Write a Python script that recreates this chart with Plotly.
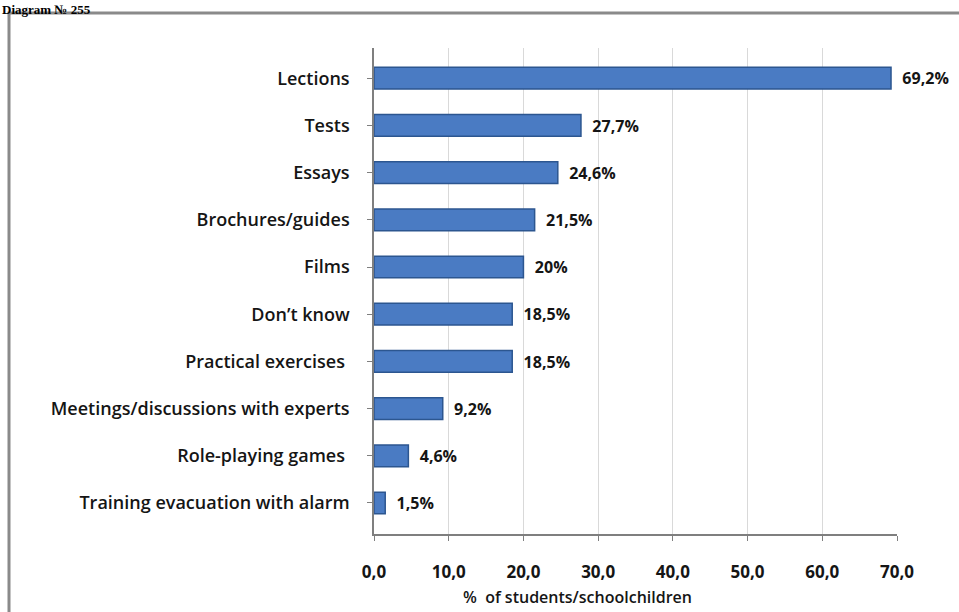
import plotly.graph_objects as go

categories = ["Lections", "Tests", "Essays", "Brochures/guides", "Films", "Don\u2019t know",
              "Practical exercises ", "Meetings/discussions with experts", "Role-playing games ",
              "Training evacuation with alarm"]
values = [69.2, 27.7, 24.6, 21.5, 20.0, 18.5, 18.5, 9.2, 4.6, 1.5]
value_labels = ["69,2%", "27,7%", "24,6%", "21,5%", "20%", "18,5%", "18,5%", "9,2%", "4,6%", "1,5%"]
tick_vals = [0, 10, 20, 30, 40, 50, 60, 70]
tick_text = ["0,0", "10,0", "20,0", "30,0", "40,0", "50,0", "60,0", "70,0"]

W, H = 959, 612
L, R, T, B = 374, 62, 48, 78
pw, ph = W - L - R, H - T - B

def px(x):
    return (x - L) / pw

def py(y):
    return (H - B - y) / ph

TXT = "#151515"
FONT = "Open Sans"
fig = go.Figure()
fig.add_trace(go.Bar(
    y=list(range(len(categories))), x=values, orientation="h",
    width=0.46,
    marker=dict(color="#4a7bc3", line=dict(color="#2c5690", width=1.5)),
    text=value_labels, texttemplate="  %{text}", textposition="outside", cliponaxis=False,
    textfont=dict(family=FONT, size=17, color=TXT, weight="bold"),
))

fig.update_layout(
    width=W, height=H,
    margin=dict(l=L, r=R, t=T, b=B),
    paper_bgcolor="white", plot_bgcolor="white",
    showlegend=False,
    xaxis=dict(range=[0, 70], tickvals=tick_vals, ticktext=tick_text,
               showgrid=True, gridcolor="#d9d9d9", gridwidth=1,
               zeroline=False, showline=True, linecolor="#7f7f7f", linewidth=1.5,
               ticks="outside", ticklen=5, tickcolor="#7f7f7f",
               tickfont=dict(family=FONT, size=17, color=TXT, weight="bold"),
               ticklabelstandoff=17),
    yaxis=dict(range=[9.657, -0.64], tickmode="array",
               tickvals=list(range(len(categories))), ticktext=categories,
               showgrid=False, showline=True, zeroline=False,
               linecolor="#7f7f7f", linewidth=1.5, ticks="outside", ticklen=5,
               tickcolor="#7f7f7f",
               tickfont=dict(family=FONT, size=18, color=TXT, weight=600),
               ticklabelstandoff=14),
    font=dict(family=FONT),
)

# frame around chart
fig.add_shape(type="rect", xref="paper", yref="paper",
              x0=px(9), x1=px(968), y0=py(625), y1=py(13),
              line=dict(color="#8a8a8a", width=3), fillcolor="rgba(0,0,0,0)", layer="below")

fig.add_annotation(text="%  of students/schoolchildren", xref="paper", yref="paper",
                   x=px(577), y=py(597), xanchor="center", yanchor="middle",
                   showarrow=False,
                   font=dict(family=FONT, size=16, color=TXT, weight=600))

fig.add_annotation(text="Diagram \u2116 255", xref="paper", yref="paper",
                   x=px(0), y=py(0), xanchor="left", yanchor="top",
                   showarrow=False,
                   font=dict(family="Liberation Serif", size=13, color="#000000", weight="bold"))

fig.write_html("out.html", config={"displayModeBar": False},
               post_script="document.body.style.margin='0';")
